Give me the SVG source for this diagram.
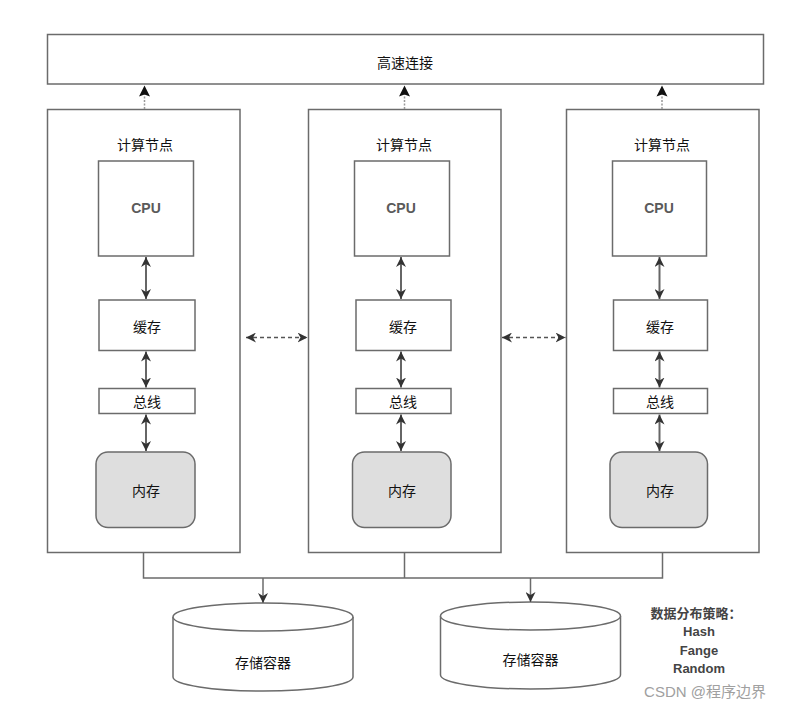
<svg xmlns="http://www.w3.org/2000/svg" width="788" height="709" viewBox="0 0 788 709">
<defs>
<marker id="ah" viewBox="0 0 10 10" refX="10" refY="5" markerWidth="10" markerHeight="10" orient="auto-start-reverse" markerUnits="userSpaceOnUse">
<path d="M0,0 L10,5 L0,10 L3,5 Z" fill="#333"/>
</marker>
<path id="uphead" d="M0,0 L5.5,11 L0,9 L-5.5,11 Z"/>
</defs>
<style>
.box{fill:#fff;stroke:#6b6b6b;stroke-width:1.5}
.mem{fill:#dedede;stroke:#6b6b6b;stroke-width:1.5}
.t{font-family:"Noto Sans CJK SC","Liberation Sans",sans-serif;font-size:14px;fill:#111;text-anchor:middle;dominant-baseline:central}
.cpu{font-family:"Liberation Sans",Arial,sans-serif;font-size:14px;font-weight:bold;fill:#5a5a5a;text-anchor:middle;dominant-baseline:central}
.ar{stroke:#666;stroke-width:2;fill:none;marker-start:url(#ah);marker-end:url(#ah)}
.up{stroke:#999;stroke-width:1.5;stroke-dasharray:2 1.5;fill:none}
.uph{fill:#111;stroke:none}
.dash{stroke:#555;stroke-width:1.5;stroke-dasharray:4 3;fill:none;marker-start:url(#ah);marker-end:url(#ah)}
.bus{stroke:#6b6b6b;stroke-width:1.5;fill:none}
.dn{stroke:#6b6b6b;stroke-width:1.5;fill:none;marker-end:url(#ah)}
.leg{font-family:"Noto Sans CJK SC","Liberation Sans",sans-serif;font-size:13px;fill:#444;font-weight:600;text-anchor:middle;dominant-baseline:central}
.legl{font-family:"Liberation Sans",Arial,sans-serif;font-size:13px;fill:#444;font-weight:bold;text-anchor:middle;dominant-baseline:central}
</style>
<rect width="788" height="709" fill="#fff"/>

<g id="highspeed">
<rect class="box" x="47.5" y="34.5" width="716" height="49.5"/>
<text class="t" x="405" y="62">高速连接</text>
</g>

<g id="node1">
<rect class="box" x="47.5" y="109.5" width="192.5" height="443"/>
<text class="t" x="145" y="144">计算节点</text>
<rect class="box" x="98.5" y="161" width="95" height="95"/>
<text class="cpu" x="146" y="208">CPU</text>
<rect class="box" x="99" y="300" width="96" height="50.5"/>
<text class="t" x="147" y="326">缓存</text>
<rect class="box" x="99" y="388.5" width="96" height="25"/>
<text class="t" x="147" y="401">总线</text>
<rect class="mem" x="96" y="452" width="99" height="75.5" rx="12"/>
<text class="t" x="146" y="490">内存</text>
</g>

<g id="node2">
<rect class="box" x="308.5" y="109.5" width="192.5" height="443"/>
<text class="t" x="404" y="144">计算节点</text>
<rect class="box" x="354.5" y="161" width="95" height="95"/>
<text class="cpu" x="401" y="208">CPU</text>
<rect class="box" x="356" y="300" width="95" height="50.5"/>
<text class="t" x="403" y="326">缓存</text>
<rect class="box" x="356" y="388.5" width="95" height="25"/>
<text class="t" x="403" y="401">总线</text>
<rect class="mem" x="352.5" y="452" width="98.5" height="75.5" rx="12"/>
<text class="t" x="402" y="490">内存</text>
</g>

<g id="node3">
<rect class="box" x="566.5" y="109.5" width="192.5" height="443"/>
<text class="t" x="662" y="144">计算节点</text>
<rect class="box" x="612.5" y="161" width="94" height="95"/>
<text class="cpu" x="659" y="208">CPU</text>
<rect class="box" x="613.5" y="300" width="94" height="50.5"/>
<text class="t" x="660" y="326">缓存</text>
<rect class="box" x="613.5" y="388.5" width="94" height="25"/>
<text class="t" x="660" y="401">总线</text>
<rect class="mem" x="610" y="452" width="97.5" height="75.5" rx="12"/>
<text class="t" x="660" y="490">内存</text>
</g>

<g id="storage1">
<path class="box" d="M173,617 L173,677 A90,14 0 0 0 353,677 L353,617"/>
<ellipse class="box" cx="263" cy="617" rx="90" ry="14"/>
<text class="t" x="263" y="662">存储容器</text>
</g>

<g id="storage2">
<path class="box" d="M440.5,616 L440.5,675 A90,14 0 0 0 620.5,675 L620.5,616"/>
<ellipse class="box" cx="530.5" cy="616" rx="90" ry="14"/>
<text class="t" x="530.5" y="659">存储容器</text>
</g>

<g id="strategy">
<text class="leg" x="696" y="612">数据分布策略：</text>
<text class="legl" x="699" y="631">Hash</text>
<text class="legl" x="699" y="650">Fange</text>
<text class="legl" x="699" y="668">Random</text>
</g>

<g id="connectors">
<path class="up" d="M144.5,109 L144.5,94"/>
<use href="#uphead" class="uph" x="144.5" y="85.5"/>
<path class="up" d="M404.5,109 L404.5,94"/>
<use href="#uphead" class="uph" x="404.5" y="85.5"/>
<path class="up" d="M662,109 L662,94"/>
<use href="#uphead" class="uph" x="662" y="85.5"/>

<path class="ar" d="M146,257 L146,299"/>
<path class="ar" d="M146,351.5 L146,387.5"/>
<path class="ar" d="M146,414.5 L146,451"/>
<path class="ar" d="M401,257 L401,299"/>
<path class="ar" d="M401,351.5 L401,387.5"/>
<path class="ar" d="M401,414.5 L401,451"/>
<path class="ar" d="M659.5,257 L659.5,299"/>
<path class="ar" d="M659.5,351.5 L659.5,387.5"/>
<path class="ar" d="M659.5,414.5 L659.5,451"/>

<path class="dash" d="M246,337.5 L307.5,337.5"/>
<path class="dash" d="M502,337.5 L565.5,337.5"/>

<path class="bus" d="M143.5,553 L143.5,578 L662.5,578 L662.5,553 M404.5,553 L404.5,578"/>
<path class="dn" d="M263,578 L263,603"/>
<path class="dn" d="M530.5,578 L530.5,602"/>
</g>

<text x="705" y="691" font-family="Liberation Sans,'Noto Sans CJK SC',sans-serif" font-size="15" fill="#a0a0a0" text-anchor="middle" dominant-baseline="central">CSDN @程序边界</text>
</svg>
